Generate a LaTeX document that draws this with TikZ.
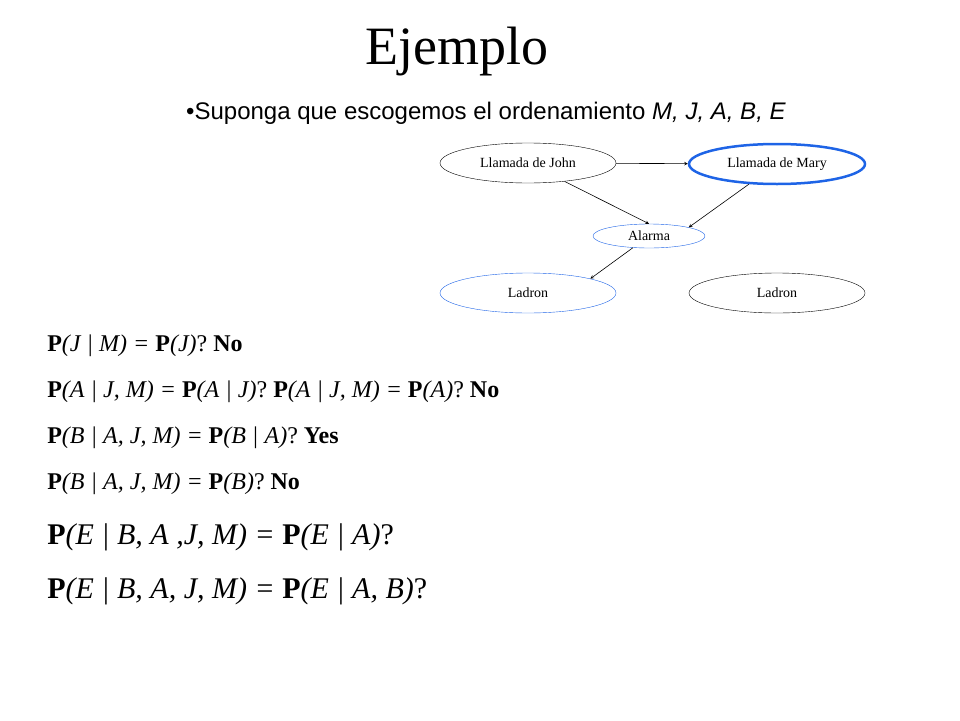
\documentclass[tikz,border=0pt]{standalone}
\usepackage{fontspec}
\setmainfont{Liberation Serif}
\setsansfont{Liberation Sans}
\usetikzlibrary{shapes.geometric, arrows, positioning}
\definecolor{netblue}{RGB}{30,100,230}
\newcommand{\PB}{\textbf{P}}

\begin{document}
\begin{tikzpicture}[> = stealth, % arrow head style
                x = 1pt, y = -1pt, % pixel units
                semithick % line style
            ]

            \tikzset{netnode/.style = {draw = black, ellipse, thin, inner sep = 0pt,
            minimum width = 176pt, minimum height = 40pt, font = \fontsize{14}{16}\selectfont},
            eqline/.style = {anchor = west, inner sep = 0pt, font = \fontsize{24}{28}\selectfont},
            bigline/.style = {anchor = west, inner sep = 0pt, font = \fontsize{30}{34}\selectfont}}

            \useasboundingbox (0,0) rectangle (960,720);

            \node (title) at (457,52) {\fontsize{54}{60}\selectfont Ejemplo};
            \node (sub) at (486,113) {\sffamily\fontsize{24}{28}\selectfont
            \textbullet Suponga que escogemos el ordenamiento \textit{M, J, A, B, E}};

            \node (john) [netnode] at (528,163) {Llamada de John};
            \node (mary) [netnode, draw = netblue, line width = 2.5pt] at (777,164) {Llamada de Mary};
            \node (alarm) [netnode, draw = netblue, minimum width = 112pt,
            minimum height = 24pt] at (649,236) {Alarma};
            \node (thief) [netnode, draw = netblue] at (528,293) {Ladron};
            \node (quake) [netnode] at (777,293) {Ladron};

            \path[->] (john) edge (mary); \path[->] (john) edge (alarm.north);
            \path[->] (mary) edge (alarm.north east); \path[->] (alarm) edge (thief.north east);

            \node (q1) [eqline] at (47,346) {\PB\textit{(J | M) =} \PB\textit{(J)}? \textbf{No}};
            \node (q2) [eqline] at (47,392) {\PB\textit{(A | J, M) =} \PB\textit{(A | J)}?
            \PB\textit{(A | J, M) =} \PB\textit{(A)}? \textbf{No}};
            \node (q3) [eqline] at (47,438) {\PB\textit{(B | A, J, M) =} \PB\textit{(B | A)}? \textbf{Yes}};
            \node (q4) [eqline] at (47,484) {\PB\textit{(B | A, J, M) =} \PB\textit{(B)}? \textbf{No}};
            \node (q5) [bigline] at (47,537) {\PB\textit{(E | B, A ,J, M) =} \PB\textit{(E | A)}?};
            \node (q6) [bigline] at (47,591) {\PB\textit{(E | B, A, J, M) =} \PB\textit{(E | A, B)}?};
\end{tikzpicture}
\end{document}
